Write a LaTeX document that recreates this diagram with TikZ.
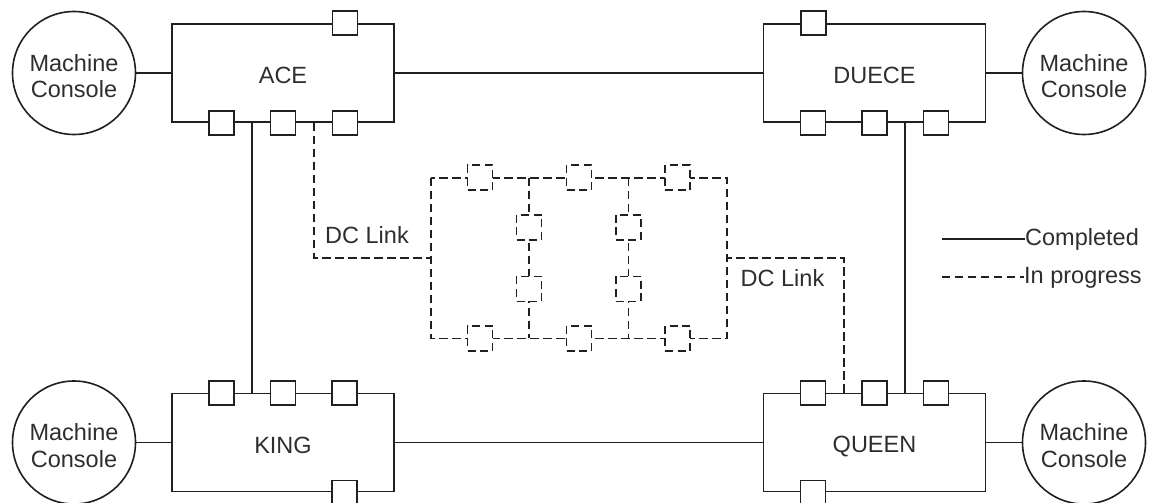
\documentclass[tikz,border=0pt]{standalone}
\usepackage{fontspec}
\setmainfont{Liberation Sans}
\usetikzlibrary{calc}
\definecolor{ink}{HTML}{231F20}
\definecolor{txt}{HTML}{2E2E2E}
\begin{document}
\begin{tikzpicture}[x=1pt,y=-1pt,
  every node/.style={font=\fontsize{23.5}{26.5}\selectfont, text=txt},
  unit/.style={draw=ink, line width=1.9pt, minimum width=222pt, minimum height=98pt, inner sep=0pt},
  port/.style={draw=ink, fill=white, line width=1.9pt, minimum width=25pt, minimum height=24pt, inner sep=0pt},
  dport/.style={draw=ink, fill=white, line width=1.6pt, dash pattern=on 8pt off 4.5pt, minimum width=25pt, minimum height=25pt, inner sep=0pt},
  console/.style={circle, draw=ink, line width=1.6pt, minimum size=123pt, inner sep=0pt},
  ctext/.style={align=center, inner sep=0pt},
  link/.style={draw=ink, line width=1.9pt},
  plink/.style={draw=ink, line width=1.6pt, dash pattern=on 8.5pt off 4.5pt},
  lbl/.style={anchor=base, inner sep=0pt},
  leg/.style={anchor=base west, inner sep=0pt}
]
\useasboundingbox (0,0) rectangle (1151,503);

% units
\node[unit] (ace)   at (283,73) {};
\node[unit] (duece) at (874.5,73) {};
\node[unit] (king)  at (283,442.5) {};
\node[unit] (queen) at (874.5,442.5) {};

\node[lbl] (acel)   at ($(ace.center)+(0,11)$) {ACE};
\node[lbl] (duecel) at ($(duece.center)+(0,10.5)$) {DUECE};
\node[lbl] (kingl)  at ($(king.center)+(0,10.5)$) {KING};
\node[lbl] (queenl) at ($(queen.center)+(0,10)$) {QUEEN};

% ports
\node[port] (at) at ($(ace.north)+(62,0)$) {};
\node[port] (a1) at ($(ace.south)+(-61.5,0)$) {};
\node[port] (a2) at (ace.south) {};
\node[port] (a3) at ($(ace.south)+(62,0)$) {};

\node[port] (dt) at ($(duece.north)+(-61,0)$) {};
\node[port] (d1) at ($(duece.south)+(-61.5,0)$) {};
\node[port] (d2) at (duece.south) {};
\node[port] (d3) at ($(duece.south)+(61.5,0)$) {};

\node[port] (k1) at ($(king.north)+(-61.5,0)$) {};
\node[port] (k2) at (king.north) {};
\node[port] (k3) at ($(king.north)+(61.5,0)$) {};
\node[port] (kb) at ($(king.south)+(61.5,0)$) {};

\node[port] (q1) at ($(queen.north)+(-61.5,0)$) {};
\node[port] (q2) at (queen.north) {};
\node[port] (q3) at ($(queen.north)+(61.5,0)$) {};
\node[port] (qb) at ($(queen.south)+(-61.5,0)$) {};

% consoles
\node[console] (mc1) at (74,73) {};
\node[console] (mc2) at (1084,73) {};
\node[console] (mc3) at (74,442.5) {};
\node[console] (mc4) at (1084,442.5) {};
\foreach \c in {mc1,mc2,mc3,mc4}
  \node[ctext] at ($(\c.center)+(0,3)$) {Machine\\Console};

% completed links
\draw[link] (mc1.east) -- (ace.west);
\draw[link] (ace.east) -- (duece.west);
\draw[link] (duece.east) -- (mc2.west);
\draw[link] (mc3.east) -- (king.west);
\draw[link] (king.east) -- (queen.west);
\draw[link] (queen.east) -- (mc4.west);
\draw[link] ($(a1)!0.5!(a2)$) -- ($(k1)!0.5!(k2)$);
\draw[link] ($(d2)!0.5!(d3)$) -- ($(q2)!0.5!(q3)$);

% central DC grid (in progress)
\coordinate (gTL) at (430.7,177.7);
\coordinate (gBR) at (727,338.3);
\coordinate (gW) at (430.7,257.7);
\coordinate (gE) at (727,257.7);
\coordinate (c1t) at (529,177.7);
\coordinate (c1b) at (529,338.3);
\coordinate (c2t) at (628.3,177.7);
\coordinate (c2b) at (628.3,338.3);
\draw[plink] (gTL) rectangle (gBR);
\draw[plink] (c1t) -- (c1b);
\draw[plink] (c2t) -- (c2b);

\draw[plink] ($(a2)!0.5!(a3)$) |- (gW);
\draw[plink] ($(q1)!0.5!(q2)$) |- (gE);

\node[dport] (t1) at (480,177.7) {};
\node[dport] (t2) at (579,177.7) {};
\node[dport] (t3) at (677.5,177.7) {};
\node[dport] (b1) at (480,338.3) {};
\node[dport] (b2) at (579,338.3) {};
\node[dport] (b3) at (677.5,338.3) {};
\node[dport] (m11) at (529,227.2) {};
\node[dport] (m12) at (529,288.8) {};
\node[dport] (m21) at (628.3,227.2) {};
\node[dport] (m22) at (628.3,288.8) {};

\node[lbl] (dcl1) at (367,243.5) {DC Link};
\node[lbl] (dcl2) at (782.5,286.5) {DC Link};

% legend
\node[leg] (comp) at (1025,245) {Completed};
\node[leg] (prog) at (1024,283.3) {In progress};
\coordinate (ls) at (941.7,239);
\coordinate (lp) at (941.7,276.7);
\draw[link] (ls) -- (ls -| comp.west);
\draw[plink] (lp) -- (lp -| prog.west);
\end{tikzpicture}
\end{document}
